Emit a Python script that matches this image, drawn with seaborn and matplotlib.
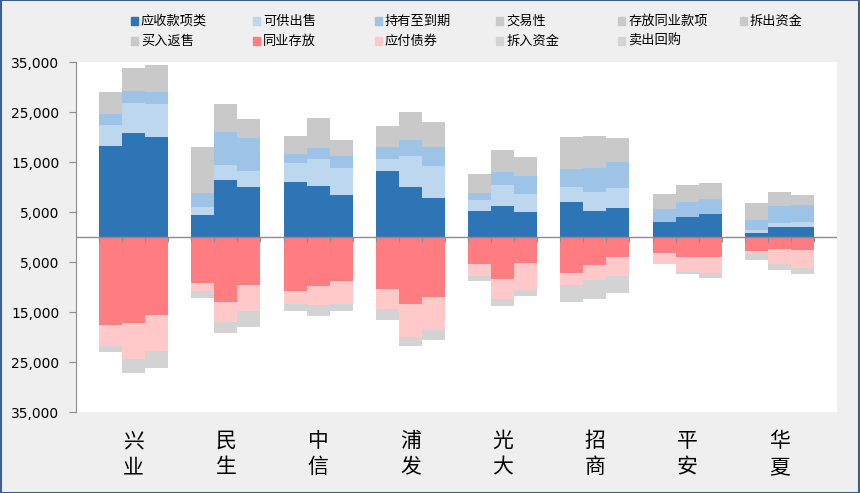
import numpy as np
import pandas as pd
import seaborn as sns
import matplotlib.pyplot as plt
from matplotlib.patches import Rectangle

# 8家银行，每家三根柱（三个年度），单位按图读数
banks = ['兴业', '民生', '中信', '浦发', '光大', '招商', '平安', '华夏']

# 资产端（正向堆叠）
yingshou = [18200, 20900, 20000, 4500, 11500, 10100, 11000, 10200, 8400, 13200, 10100, 7900,
            5300, 6300, 5000, 7000, 5300, 5800, 3100, 4100, 4700, 900, 2000, 2000]
kegong = [4200, 6000, 6600, 1600, 2900, 3200, 3900, 5500, 5500, 2500, 6100, 6400,
          2100, 4100, 3700, 3100, 3800, 4100, 0, 0, 0, 500, 900, 1100]
chiyou = [2200, 2400, 2500, 2800, 6700, 6600, 1800, 2200, 2300, 2300, 3300, 3700,
          1500, 2600, 3600, 3500, 4700, 5100, 2500, 3000, 2900, 2000, 3400, 3400]
# 灰色几项在图上无法区分，合计读数记在"存放同业款项"
cunfang = [4400, 4500, 5300, 9100, 5500, 3700, 3500, 5900, 3200, 4200, 5500, 5000,
           3700, 4400, 3700, 6400, 6400, 4800, 3100, 3300, 3200, 3400, 2700, 1900]
jiaoyi = [0] * 24
chaichu = [0] * 24
mairu = [0] * 24

# 负债端（负向堆叠）
tongye = [17500, 17100, 15500, 9100, 12900, 9500, 10700, 9700, 8700, 10300, 13300, 11900,
          5300, 8300, 5100, 7100, 5500, 3900, 3100, 3900, 3900, 2700, 2400, 2500]
yingfu = [4200, 7200, 7300, 1700, 4100, 5200, 2600, 3900, 4600, 4100, 6600, 6600,
          2500, 4000, 5500, 2500, 3100, 3800, 2300, 3000, 3200, 500, 2900, 3600]
chairu = [1300, 2800, 3300, 1300, 2100, 3200, 1400, 2100, 1400, 2100, 1900, 2000,
          900, 1400, 1200, 3400, 3700, 3400, 0, 400, 1000, 1300, 1300, 1200]
maichu = [0] * 24

pos_series = [('应收款项类', yingshou, '#2e75b6'), ('可供出售', kegong, '#bdd7ee'),
              ('持有至到期', chiyou, '#9dc3e6'), ('交易性', jiaoyi, '#c9c9c9'),
              ('存放同业款项', cunfang, '#c9c9c9'), ('拆出资金', chaichu, '#c9c9c9'),
              ('买入返售', mairu, '#c9c9c9')]
neg_series = [('同业存放', tongye, '#ff7c80'), ('应付债券', yingfu, '#ffc9c9'),
              ('拆入资金', chairu, '#d3d3d3'), ('卖出回购', maichu, '#d3d3d3')]

# 每家银行占4个位置：3根柱 + 1个空位
slot = [1 + 4 * g + k for g in range(len(banks)) for k in range(3)]
df = pd.DataFrame({'pos': slot})
for name, vals, _ in pos_series + neg_series:
    df[name] = vals

plt.rcParams['font.family'] = ['Noto Sans CJK SC', 'DejaVu Sans']
fig = plt.figure(figsize=(8.6, 4.93), dpi=100, facecolor='#efefef')
ax = fig.add_axes([76 / 860, 1 - 412 / 493, 761 / 860, 350 / 493])
ax.set_facecolor('white')

# 累计后从大到小覆盖绘制，得到堆叠效果
cum = df[[s[0] for s in pos_series]].cumsum(axis=1)
for name, _, c in reversed(pos_series):
    sns.barplot(x=df['pos'], y=cum[name], native_scale=True, width=1, color=c,
                saturation=1, linewidth=0, errorbar=None, ax=ax)
cum = -df[[s[0] for s in neg_series]].cumsum(axis=1)
for name, _, c in reversed(neg_series):
    sns.barplot(x=df['pos'], y=cum[name], native_scale=True, width=1, color=c,
                saturation=1, linewidth=0, errorbar=None, ax=ax)

ax.axhline(0, color='#8c8c8c', lw=1, zorder=4)
ax.vlines(np.arange(0.5, 32, 1), 0, -1000, colors='#8c8c8c', lw=0.8, zorder=4)

ax.set_xlim(-0.5, 32.5)
ax.set_ylim(-35000, 35000)
yt = [-35000, -25000, -15000, -5000, 5000, 15000, 25000, 35000]
ax.set_yticks(yt)
ax.set_yticklabels([f'{abs(v):,}' for v in yt], family='DejaVu Sans', fontsize=10)
ax.set_xticks([4 * g + 2 for g in range(len(banks))])
ax.set_xticklabels(['\n'.join(b) for b in banks], fontsize=15, linespacing=1.25)
ax.tick_params(axis='x', length=0, pad=13)
ax.tick_params(axis='y', length=5, color='#8c8c8c', pad=7)
ax.set_xlabel('')
ax.set_ylabel('')
for s in ['top', 'right', 'bottom']:
    ax.spines[s].set_visible(False)
ax.spines['left'].set_color('#8c8c8c')

# 图例：两行六列
for i, (name, _, c) in enumerate(pos_series + neg_series):
    row, col = divmod(i, 6)
    x = (131 + col * 121.8) / 860
    y = 1 - (21 + row * 20) / 493
    fig.patches.append(Rectangle((x, y - 3.5 / 493), 7 / 860, 7 / 493, color=c,
                                 transform=fig.transFigure, figure=fig))
    fig.text(x + 10 / 860, y, name, fontsize=9.5, va='center', ha='left')

fig.patches.append(Rectangle((0.001, 0.001), 0.998, 0.998, fill=False, edgecolor='#3f5f8f',
                             lw=1.5, transform=fig.transFigure, figure=fig))

fig.savefig('out.png', dpi=100, facecolor=fig.get_facecolor())
